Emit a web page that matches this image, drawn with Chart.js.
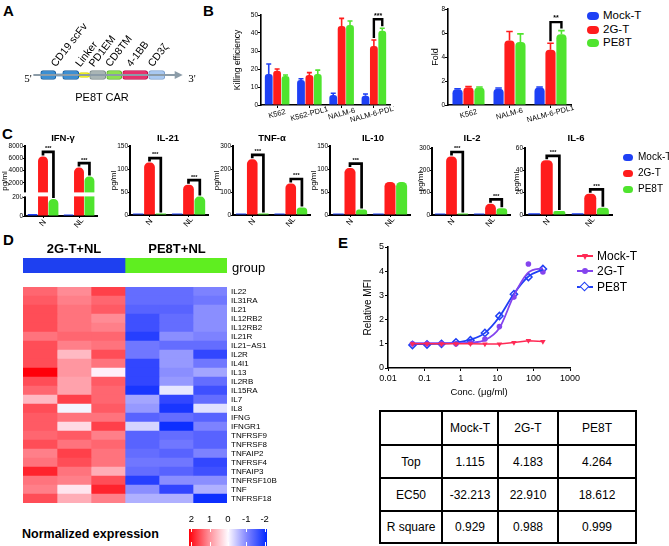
<!DOCTYPE html>
<html>
<head>
<meta charset="utf-8">
<script src="https://cdn.jsdelivr.net/npm/chart.js@4.4.1/dist/chart.umd.min.js"></script>
<style>
  html, body { margin: 0; padding: 0; background: #fff; }
  #fig { position: relative; width: 669px; height: 546px; overflow: hidden;
         font-family: 'Liberation Sans', Arial, Helvetica, sans-serif; color: #000; }
  #fig canvas { position: absolute; }
  .t { position: absolute; white-space: nowrap; line-height: 1; }
  .mk { position: absolute; }
  table.fit { position: absolute; left: 379px; top: 410px; border-collapse: collapse;
              table-layout: fixed; font-size: 12px; }
  table.fit td { border: 2px solid #000; text-align: center; padding: 0; }
</style>
</head>
<body>
<div id="fig"></div>
<script>
// ---------------- data ----------------
// A: construct
const carParts = ['VL', 'VH', 'Linker', 'PD1EM', 'CD8TM', '4-1BB', 'CD3z'];
const carSpans = [[0, 15], [22, 38], [38, 49], [49, 65], [66, 81], [82, 107], [108, 124]];
const carLabels = ['CD19 scFv', 'Linker', 'PD1EM', 'CD8TM', '4-1BB', 'CD3ζ'];
const carLabelParts = [[0, 1], [2], [3], [4], [5], [6]];
const carBackbone = [-7, 135];
const carLink = [15, 22];

// B: killing / fold
const killCats = ['K562', 'K562-PDL1', 'NALM-6', 'NALM-6-PDL1'];
const killMock = [17.2, 13.9, 5.6, 5.2];
const kill2G = [19.0, 16.7, 43.9, 32.8];
const killPE8T = [16.1, 17.2, 44.4, 41.3];
const killMockErr = [22.8, 14.6, 6.5, 6.1];
const kill2GErr = [20.0, 18.0, 48.1, 36.1];
const killPE8TErr = [16.7, 19.4, 46.7, 42.6];

const foldCats = ['K562', 'NALM-6', 'NALM-6-PDL1'];
const foldMock = [1.31, 1.36, 1.45];
const fold2G = [1.48, 5.38, 4.6];
const foldPE8T = [1.45, 5.26, 5.9];
const foldMockErr = [1.36, 1.42, 1.5];
const fold2GErr = [1.54, 6.13, 5.15];
const foldPE8TErr = [1.5, 5.93, 6.2];

// C: cytokines (pg/ml)
const cytoCats = ['N', 'NL'];
const ifnMock = [20, 15], ifn2G = [6300, 4480], ifnPE8T = [179, 3020];
const ifnTicks = [0, 200, 2000, 4000, 6000, 8000];
const il21Mock = [1, 1], il21_2G = [114, 66], il21PE8T = [3, 40];
const tnfMock = [4, 3], tnf2G = [242, 137], tnfPE8T = [2, 33];
const il10Mock = [2, 2], il10_2G = [102, 72], il10PE8T = [12, 72];
const il2Mock = [2, 2], il2_2G = [262, 50], il2PE8T = [3, 30];
const il6Mock = [1.5, 1.5], il6_2G = [49, 19], il6PE8T = [3.6, 6.6];

// D: heatmap (normalized expression), one array per sample column
const genes = ['IL22', 'IL31RA', 'IL21', 'IL12RB2', 'IL12RB2', 'IL21R', 'IL21\u2212AS1', 'IL2R', 'IL4I1',
  'IL13', 'IL2RB', 'IL15RA', 'IL7', 'IL8', 'IFNG', 'IFNGR1', 'TNFRSF9', 'TNFRSF8', 'TNFAIP2',
  'TNFRSF4', 'TNFAIP3', 'TNFRSF10B', 'TNF', 'TNFRSF18'];
const nl2G_1 = [1.3, 1.4, 1.5, 1.5, 1.5, 1.2, 1.5, 1.5, 1.5, 2.0, 1.5, 1.3, 0.6, 1.5, 1.4, 1.4, 1.3, 1.5, 1.1, 1.2, 1.8, 1.2, 1.1, 1.5];
const nl2G_2 = [1.0, 1.1, 1.2, 1.2, 1.2, 1.3, 1.1, 0.6, 0.9, 0.9, 0.8, 0.8, 1.6, -0.05, 1.2, 0.3, 1.4, 1.2, 1.6, 1.5, 1.2, 1.1, 0.2, 0.7];
const nl2G_3 = [1.6, 1.3, 1.4, 1.0, 1.1, 1.3, 1.2, 1.5, 1.2, 0.1, 1.4, 1.3, 1.3, 1.4, 1.2, 1.6, 1.1, 1.3, 1.2, 1.2, 0.7, 1.5, 1.8, 1.1];
const nlPE_1 = [-1.2, -1.2, -1.3, -1.5, -1.5, -1.7, -1.1, -1.1, -1.6, -1.6, -1.6, -1.8, -0.7, -0.8, -1.3, -0.3, -1.3, -1.3, -1.2, -1.1, -1.2, -1.7, -0.9, -0.6];
const nlPE_2 = [-1.2, -1.2, -1.3, -1.2, -1.2, -0.9, -1.2, -0.8, -0.8, -0.9, -0.8, -0.15, -1.6, -1.8, -1.2, -1.9, -1.2, -1.1, -1.3, -1.1, -1.3, -0.9, -1.6, -0.6];
const nlPE_3 = [-1.0, -1.1, -0.9, -0.9, -0.9, -1.0, -1.2, -1.6, -1.1, -0.7, -1.2, -1.5, -1.2, -0.2, -1.3, -1.0, -1.3, -1.3, -1.0, -1.6, -1.5, -0.9, -0.6, -1.9];
const groupSizes = [3, 3];
const heatTicks = [2, 1, 0, -1, -2];

// E: dose response
const concs = [0.047, 0.118, 0.295, 0.737, 1.84, 4.6, 11.5, 28.8, 72, 180];
const mfiMock = [1.0, 1.0, 1.0, 1.0, 1.0, 0.99, 0.99, 1.05, 1.13, 1.09];
const mfi2G = [1.0, 1.0, 1.0, 1.0, 1.05, 1.2, 1.71, 2.93, 4.3, 3.97];
const mfiPE8T = [0.95, 0.97, 1.0, 1.06, 1.15, 1.45, 2.15, 3.05, 3.76, 4.09];
const fit2G = [1.03, 1.03, 1.03, 1.03, 1.05, 1.15, 1.65, 3.0, 3.95, 4.13];
const fitPE8T = [0.98, 0.99, 1.01, 1.05, 1.17, 1.45, 2.12, 3.07, 3.78, 4.07];
const fitHead = ['', 'Mock-T', '2G-T', 'PE8T'];
const fitTop = ['1.115', '4.183', '4.264'];
const fitEC50 = ['-32.213', '22.910', '18.612'];
const fitR2 = ['0.929', '0.988', '0.999'];

// ---------------- helpers ----------------
const F = "'Liberation Sans', Arial, Helvetica, sans-serif";
const COLS = ['#1e40f5', '#ff1c1c', '#4fe42e'];
const fig = document.getElementById('fig');
Chart.defaults.font.family = F;
Chart.defaults.color = '#000';

function mkCanvas(left, top, w, h) {
  const c = document.createElement('canvas');
  c.width = w; c.height = h;
  c.style.left = left + 'px'; c.style.top = top + 'px';
  c.style.width = w + 'px'; c.style.height = h + 'px';
  fig.appendChild(c);
  return c;
}

function txt(s, x, y, css, align) {
  const d = document.createElement('div');
  d.className = 't';
  d.textContent = s;
  d.style.cssText = 'left:' + x + 'px;top:' + y + 'px;transform:translate(' +
    (align === 'l' ? '0' : '-50%') + ',-50%);' + (css || '');
  fig.appendChild(d);
  return d;
}

function box(x, y, w, h, css) {
  const d = document.createElement('div');
  d.className = 'mk';
  d.style.cssText = 'left:' + (x - w / 2) + 'px;top:' + (y - h / 2) + 'px;width:' + w + 'px;height:' + h + 'px;' + css;
  fig.appendChild(d);
}

function heat(v) {
  const t = Math.min(1, Math.abs(v) / 2);
  if (v >= 0) {
    const c = Math.round(250 * Math.pow(1 - t, 0.85));
    return 'rgb(255,' + c + ',' + Math.min(255, c + 10) + ')';
  }
  const c = Math.round(250 * (1 - t));
  return 'rgb(' + c + ',' + Math.round(c + 40 * t * t * t) + ',255)';
}

// broken axis for IFN-g: 0-200 low part, 500-8000 high part
function ifnAxis(v) {
  if (v <= 200) return v * 19 / 200;
  if (v <= 500) return 19 + (v - 200) / 300 * 5;
  return 24 + (v - 500) / 7500 * 46;
}

// ---------------- plugins ----------------
const brkPlugin = {
  id: 'brk',
  afterDatasetsDraw(chart, a, o) {
    if (!o || o.from === undefined) return;
    const y = chart.scales.y, ca = chart.chartArea, ctx = chart.ctx;
    const t = y.getPixelForValue(o.to), b = y.getPixelForValue(o.from);
    ctx.save();
    ctx.fillStyle = '#fff';
    ctx.fillRect(ca.left - 4, t, ca.right - ca.left + 4, b - t);
    ctx.restore();
  }
};

const errPlugin = {
  id: 'errbars',
  afterDatasetsDraw(chart) {
    const ctx = chart.ctx, y = chart.scales.y;
    chart.data.datasets.forEach((ds, i) => {
      if (!ds.errs) return;
      chart.getDatasetMeta(i).data.forEach((bar, j) => {
        const top = y.getPixelForValue(ds.errs[j]);
        const w = bar.width * 0.32;
        ctx.save();
        ctx.strokeStyle = ds.backgroundColor;
        ctx.lineWidth = 1.6;
        ctx.beginPath();
        ctx.moveTo(bar.x, bar.y); ctx.lineTo(bar.x, top);
        ctx.moveTo(bar.x - w, top); ctx.lineTo(bar.x + w, top);
        ctx.stroke();
        ctx.restore();
      });
    });
  }
};

const sigPlugin = {
  id: 'sig',
  afterDatasetsDraw(chart, a, o) {
    if (!o || !o.marks) return;
    const ctx = chart.ctx, y = chart.scales.y;
    const topOf = (k, g) => {
      const ds = chart.data.datasets[k];
      let t = chart.getDatasetMeta(k).data[g].y;
      if (ds.errs) t = Math.min(t, y.getPixelForValue(ds.errs[g]));
      return t;
    };
    o.marks.forEach(m => {
      const ea = chart.getDatasetMeta(m.a).data[m.g];
      const eb = chart.getDatasetMeta(m.b).data[m.g];
      const ta = topOf(m.a, m.g) - o.gap, tb = topOf(m.b, m.g) - o.gap;
      const top = Math.min(ta, tb) - o.rise;
      ctx.save();
      ctx.strokeStyle = '#000';
      ctx.lineWidth = o.lw;
      ctx.lineJoin = 'miter';
      ctx.beginPath();
      ctx.moveTo(ea.x, ta); ctx.lineTo(ea.x, top); ctx.lineTo(eb.x, top); ctx.lineTo(eb.x, tb);
      ctx.stroke();
      ctx.fillStyle = '#000';
      ctx.font = o.font;
      ctx.textAlign = 'center';
      ctx.textBaseline = 'bottom';
      ctx.fillText(m.t, (ea.x + eb.x) / 2, top - o.lw / 2 + 1);
      ctx.restore();
    });
  }
};

const xlabPlugin = {
  id: 'xlab',
  afterDraw(chart, a, o) {
    if (!o || !o.font) return;
    const x = chart.scales.x, ctx = chart.ctx;
    ctx.save();
    ctx.fillStyle = '#000';
    ctx.font = o.font;
    ctx.textAlign = 'center';
    ctx.textBaseline = 'middle';
    chart.data.labels.forEach((l, i) => {
      ctx.save();
      ctx.translate(x.getPixelForValue(i), x.top + o.dy);
      ctx.rotate(o.rot * Math.PI / 180);
      ctx.fillText(l, 0, 0);
      ctx.restore();
    });
    ctx.restore();
  }
};

function barChart(o) {
  const pr = 4;
  const left = o.x0 - o.yw;
  const w = o.x1 - left + pr;
  const cv = mkCanvas(left, o.top, w, o.h);
  const xh = o.top + o.h - o.y1;
  const yTicks = { stepSize: o.step, color: '#000', font: { family: F, size: o.tf }, padding: 0 };
  if (o.tcb) yTicks.callback = o.tcb;
  const yScale = {
    min: o.min, max: o.max,
    grid: { drawOnChartArea: false, drawTicks: true, tickLength: o.tl, color: '#000', lineWidth: 1 },
    border: { color: '#000', width: o.bw },
    ticks: yTicks,
    title: { display: true, text: o.title, color: '#000', font: { family: F, size: o.titleSize }, padding: 0 },
    afterFit: s => { s.width = o.yw; s.paddingTop = 0; s.paddingBottom = 0; }
  };
  if (o.ticks) yScale.afterBuildTicks = s => { s.ticks = o.ticks.map(v => ({ value: v })); };
  return new Chart(cv, {
    type: 'bar',
    data: {
      labels: o.cats,
      datasets: o.sets.map((d, i) => ({
        data: o.map ? d.map(o.map) : d,
        errs: o.errs ? o.errs[i] : null,
        backgroundColor: COLS[i],
        borderRadius: o.radius,
        borderSkipped: 'start',
        barPercentage: o.bp,
        categoryPercentage: o.cp,
        minBarLength: 1.5
      }))
    },
    options: {
      responsive: false, animation: false, devicePixelRatio: 1, events: [],
      layout: { padding: { left: 0, right: pr, top: o.y0 - o.top, bottom: 0 } },
      plugins: {
        legend: { display: false }, tooltip: { enabled: false },
        sig: o.sig, xlab: o.xlab, brk: o.brk || {}
      },
      scales: {
        x: {
          grid: { offset: false, drawOnChartArea: false, drawTicks: true, tickLength: o.tl, color: '#000', lineWidth: 1 },
          border: { color: '#000', width: o.bw },
          ticks: { display: false },
          afterFit: s => { s.height = xh; s.paddingLeft = 0; s.paddingRight = 0; }
        },
        y: yScale
      }
    },
    plugins: [brkPlugin, errPlugin, sigPlugin, xlabPlugin]
  });
}

// ---------------- panel letters ----------------
const letterCss = 'font-weight:bold;font-size:15px;';
txt('A', 3, 10, letterCss, 'l');
txt('B', 203, 10, letterCss, 'l');
txt('C', 2, 133, letterCss, 'l');
txt('D', 3, 239, letterCss, 'l');
txt('E', 338, 242, letterCss, 'l');

// ---------------- A: construct ----------------
const carColors = ['#3b8fd3', '#3b8fd3', '#f2f21e', '#a9b5b5', '#8de04f', '#e8306c', '#a9c9f2'];
const carEdges = ['#1f5f9a', '#1f5f9a', '#d8d800', '#7c8a8a', '#5cb030', '#b8104c', '#7fa2cf'];
const carPlugin = {
  id: 'car',
  afterDatasetsDraw(chart) {
    const ctx = chart.ctx;
    const el = k => chart.getDatasetMeta(k + 2).data[0];
    // arrow head
    const bb = chart.getDatasetMeta(0).data[0];
    ctx.save();
    ctx.fillStyle = '#8c9ca8';
    ctx.beginPath();
    ctx.moveTo(bb.x - 1, bb.y - 4); ctx.lineTo(bb.x + 7, bb.y); ctx.lineTo(bb.x - 1, bb.y + 4);
    ctx.closePath(); ctx.fill();
    // rotated domain names
    ctx.fillStyle = '#000';
    ctx.font = '10.5px ' + F;
    ctx.textAlign = 'left';
    ctx.textBaseline = 'alphabetic';
    carLabels.forEach((lab, i) => {
      const ids = carLabelParts[i];
      const first = el(ids[0]), last = el(ids[ids.length - 1]);
      const cx = (first.base + last.x) / 2;
      const top = chart.getDatasetMeta(2).data[0].y - 4.6;
      ctx.save();
      ctx.translate(cx - 4, top - 3);
      ctx.rotate(-52 * Math.PI / 180);
      ctx.fillText(lab, 0, 0);
      ctx.restore();
    });
    ctx.restore();
  }
};
new Chart(mkCanvas(0, 10, 200, 130), {
  type: 'bar',
  data: {
    labels: ['car'],
    datasets: [
      { data: [carBackbone], backgroundColor: '#8c9ca8', barThickness: 1.5, grouped: false },
      { data: [carLink], backgroundColor: '#2f7fc4', barThickness: 2, grouped: false }
    ].concat(carParts.map((p, i) => ({
      label: p,
      data: [carSpans[i]],
      backgroundColor: carColors[i],
      borderColor: carEdges[i],
      borderWidth: 1,
      borderSkipped: false,
      borderRadius: 2.5,
      barThickness: p === 'Linker' ? 5 : 9,
      grouped: false
    })))
  },
  options: {
    indexAxis: 'y', responsive: false, animation: false, devicePixelRatio: 1, events: [],
    layout: { padding: 0 },
    plugins: { legend: { display: false }, tooltip: { enabled: false } },
    scales: { x: { display: false, min: -40.7, max: 159.3 }, y: { display: false } }
  },
  plugins: [carPlugin]
});
txt("5'", 28, 78, "font-family:'Liberation Serif',serif;font-size:11px;");
txt("3'", 192, 78, "font-family:'Liberation Serif',serif;font-size:11px;");
txt('PE8T CAR', 102, 97, 'font-size:11px;');

// ---------------- B ----------------
barChart({
  x0: 261, x1: 390, yw: 28, top: 5, h: 128, y0: 15, y1: 105,
  cats: killCats, sets: [killMock, kill2G, killPE8T], errs: [killMockErr, kill2GErr, killPE8TErr],
  min: 0, max: 50, step: 10, tf: 6.5, tl: 3, bw: 1.6,
  title: 'Killing efficiency', titleSize: 8.5,
  cp: 0.78, bp: 0.93, radius: 3,
  sig: { marks: [{ g: 3, a: 1, b: 2, t: '***' }], lw: 2.4, gap: 2, rise: 7, font: 'bold 7px ' + F },
  xlab: { font: '7.5px ' + F, rot: -15, dy: 9 }
});
barChart({
  x0: 448, x1: 571, yw: 18, top: 2, h: 131, y0: 9, y1: 105,
  cats: foldCats, sets: [foldMock, fold2G, foldPE8T], errs: [foldMockErr, fold2GErr, foldPE8TErr],
  min: 0, max: 8, step: 2, tf: 6.5, tl: 3, bw: 1.6,
  title: 'Fold', titleSize: 9,
  cp: 0.8, bp: 0.93, radius: 4,
  sig: { marks: [{ g: 2, a: 1, b: 2, t: '**' }], lw: 2.4, gap: 2, rise: 6.5, font: 'bold 7px ' + F },
  xlab: { font: '7.5px ' + F, rot: -15, dy: 9 }
});
const legNames = ['Mock-T', '2G-T', 'PE8T'];
[16, 30, 43].forEach((y, i) => {
  box(593, y, 12, 8, 'background:' + COLS[i] + ';border-radius:4px;');
  txt(legNames[i], 603, y, 'font-size:11.5px;', 'l');
});

// ---------------- C ----------------
const both = [{ g: 0, a: 1, b: 2, t: '***' }, { g: 1, a: 1, b: 2, t: '***' }];
const cyto = [
  { name: 'IFN-\u03b3', tx: 63, x0: 25, x1: 97, yw: 25, y0: 146, y1: 216, sets: [ifnMock, ifn2G, ifnPE8T], broken: true, marks: both },
  { name: 'IL-21', tx: 168, x0: 130, x1: 208, yw: 21, y0: 146, y1: 215, sets: [il21Mock, il21_2G, il21PE8T], max: 150, step: 50, marks: both },
  { name: 'TNF-\u03b1', tx: 272, x0: 233, x1: 310, yw: 21, y0: 146, y1: 215, sets: [tnfMock, tnf2G, tnfPE8T], max: 300, step: 100, marks: both },
  { name: 'IL-10', tx: 373, x0: 330, x1: 410, yw: 21, y0: 146, y1: 215, sets: [il10Mock, il10_2G, il10PE8T], max: 150, step: 50, marks: [both[0]] },
  { name: 'IL-2', tx: 472, x0: 432, x1: 510, yw: 16, y0: 148, y1: 215, sets: [il2Mock, il2_2G, il2PE8T], max: 300, step: 100, marks: both },
  { name: 'IL-6', tx: 576, x0: 525, x1: 612, yw: 13, y0: 148, y1: 215, sets: [il6Mock, il6_2G, il6PE8T], max: 60, step: 20, marks: both }
];
cyto.forEach(c => {
  const o = {
    x0: c.x0, x1: c.x1, yw: c.yw, top: 136, h: 102, y0: c.y0, y1: c.y1,
    cats: cytoCats, sets: c.sets,
    min: 0, max: c.max, step: c.step, tf: 6.5, tl: 2, bw: 2,
    title: 'pg/ml', titleSize: 8,
    cp: 0.87, bp: 0.95, radius: 4.5,
    sig: { marks: c.marks, lw: 2.7, gap: 1, rise: 3.5, font: 'bold 5.5px ' + F },
    xlab: { font: '8px ' + F, rot: -50, dy: 7 }
  };
  if (c.broken) {
    o.map = ifnAxis;
    o.max = 70;
    o.ticks = ifnTicks.map(ifnAxis);
    o.tcb = (v, i) => String(ifnTicks[i]);
    o.brk = { from: 19.6, to: 23.6 };
  }
  barChart(o);
  txt(c.name, c.tx, 138, 'font-weight:bold;font-size:9.5px;');
});
[157, 173, 189].forEach((y, i) => {
  box(628, y, 10, 7, 'background:' + COLS[i] + ';border-radius:3.5px;');
  txt(legNames[i], 638, y, 'font-size:10px;', 'l');
});

// ---------------- D ----------------
txt('2G-T+NL', 74, 248, 'font-weight:bold;font-size:13px;');
txt('PE8T+NL', 177, 248, 'font-weight:bold;font-size:13px;');
txt('group', 232, 267, 'font-size:13px;', 'l');
new Chart(mkCanvas(23, 258, 204, 15), {
  type: 'bar',
  data: {
    labels: ['group'],
    datasets: [
      { data: [groupSizes[0]], backgroundColor: '#1e40f0', barPercentage: 1, categoryPercentage: 1 },
      { data: [groupSizes[1]], backgroundColor: '#5fee20', barPercentage: 1, categoryPercentage: 1 }
    ]
  },
  options: {
    indexAxis: 'y', responsive: false, animation: false, devicePixelRatio: 1, events: [],
    layout: { padding: 0 },
    plugins: { legend: { display: false }, tooltip: { enabled: false } },
    scales: { x: { display: false, stacked: true, min: 0, max: 6 }, y: { display: false, stacked: true } }
  }
});
const heatCols = [nl2G_1, nl2G_2, nl2G_3, nlPE_1, nlPE_2, nlPE_3];
// row names drawn next to the category scale
const geneLabels = {
  id: 'geneLabels',
  afterDraw(chart) {
    const ctx = chart.ctx, y = chart.scales.y, ca = chart.chartArea;
    ctx.save();
    ctx.fillStyle = '#000';
    ctx.font = '8px ' + F;
    ctx.textAlign = 'left';
    ctx.textBaseline = 'middle';
    chart.data.labels.forEach((l, i) => ctx.fillText(l, ca.right + 4, y.getPixelForValue(i) + 0.5));
    ctx.restore();
  }
};
new Chart(mkCanvas(18, 282, 300, 226), {
  type: 'bar',
  data: {
    labels: genes,
    datasets: heatCols.map(col => ({
      data: col.map(() => 1),
      backgroundColor: col.map(heat),
      barPercentage: 1, categoryPercentage: 1, borderWidth: 0
    }))
  },
  options: {
    indexAxis: 'y', responsive: false, animation: false, devicePixelRatio: 1, events: [],
    layout: { padding: { left: 5, right: 91, top: 5, bottom: 5 } },
    plugins: { legend: { display: false }, tooltip: { enabled: false } },
    scales: {
      x: { display: false, stacked: true, min: 0, max: 6 },
      y: { display: false, stacked: true }
    }
  },
  plugins: [geneLabels]
});
txt('Normalized expression', 22, 534, 'font-weight:bold;font-size:12.5px;', 'l');
const heatMarks = {
  id: 'heatMarks',
  afterDatasetsDraw(chart) {
    const ctx = chart.ctx, x = chart.scales.x, ca = chart.chartArea;
    ctx.save();
    ctx.strokeStyle = '#fff';
    ctx.lineWidth = 1;
    heatTicks.forEach(v => {
      const px = Math.round(x.getPixelForValue(v)) + 0.5;
      ctx.beginPath();
      ctx.moveTo(px, ca.top); ctx.lineTo(px, ca.top + 3);
      ctx.moveTo(px, ca.bottom - 4); ctx.lineTo(px, ca.bottom);
      ctx.stroke();
    });
    ctx.restore();
  }
};
new Chart(mkCanvas(184, 510, 88, 36), {
  type: 'bar',
  data: {
    labels: ['scale'],
    datasets: [{
      data: [[-2.13, 2.13]],
      barPercentage: 1, categoryPercentage: 1, borderSkipped: false,
      backgroundColor: c => {
        const ca = c.chart.chartArea;
        if (!ca) return heat(0);
        const g = c.chart.ctx.createLinearGradient(ca.left, 0, ca.right, 0);
        g.addColorStop(0, heat(2));
        g.addColorStop(0.25, heat(1));
        g.addColorStop(0.5, heat(0));
        g.addColorStop(0.75, heat(-1));
        g.addColorStop(1, heat(-2));
        return g;
      }
    }]
  },
  options: {
    indexAxis: 'y', responsive: false, animation: false, devicePixelRatio: 1, events: [],
    layout: { padding: { left: 5, right: 5, top: 0, bottom: 0 } },
    plugins: { legend: { display: false }, tooltip: { enabled: false } },
    scales: {
      x: {
        position: 'top', reverse: true, min: -2.13, max: 2.13,
        grid: { display: false, drawTicks: false }, border: { display: false },
        ticks: { color: '#000', font: { family: F, size: 9.5 }, padding: 4 },
        afterBuildTicks: s => { s.ticks = heatTicks.map(v => ({ value: v })); },
        afterFit: s => { s.height = 19; s.paddingLeft = 0; s.paddingRight = 0; }
      },
      y: { display: false }
    }
  },
  plugins: [heatMarks]
});

// ---------------- E ----------------
const pts = arr => concs.map((c, i) => ({ x: c, y: arr[i] }));
const RED = '#ff2a55', PURPLE = '#8444ee', BLUE = '#1f3ff5';
new Chart(mkCanvas(362, 240, 218, 162), {
  type: 'line',
  data: {
    datasets: [
      { data: pts(mfiMock), borderColor: RED, backgroundColor: RED, borderWidth: 1.5, tension: 0,
        pointStyle: 'triangle', pointRotation: 180, pointRadius: 3.2, pointBorderWidth: 0 },
      { data: pts(fit2G), borderColor: PURPLE, borderWidth: 1.8, cubicInterpolationMode: 'monotone', pointRadius: 0 },
      { data: pts(fitPE8T), borderColor: BLUE, borderWidth: 1.8, cubicInterpolationMode: 'monotone', pointRadius: 0 },
      { data: pts(mfi2G), showLine: false, pointStyle: 'circle', pointRadius: 2.8,
        pointBackgroundColor: PURPLE, pointBorderColor: PURPLE, pointBorderWidth: 0 },
      { data: pts(mfiPE8T), showLine: false, pointStyle: 'rectRot', pointRadius: 3.6,
        pointBackgroundColor: '#fff', pointBorderColor: BLUE, pointBorderWidth: 1.5 }
    ]
  },
  options: {
    responsive: false, animation: false, devicePixelRatio: 1, events: [],
    layout: { padding: { left: 0, right: 10, top: 7, bottom: 0 } },
    plugins: { legend: { display: false }, tooltip: { enabled: false } },
    scales: {
      x: {
        type: 'logarithmic', min: 0.01, max: 1000,
        grid: { drawOnChartArea: false, drawTicks: true, tickLength: 3, color: '#000' },
        border: { color: '#000', width: 1.6 },
        ticks: { color: '#000', font: { family: F, size: 9 }, padding: 2, callback: v => String(v) },
        afterBuildTicks: s => { s.ticks = [0.01, 0.1, 1, 10, 100, 1000].map(v => ({ value: v })); },
        title: { display: true, text: 'Conc. (\u03bcg/ml)', color: '#000', font: { family: F, size: 9.5 }, padding: { top: 0, bottom: 4 } },
        afterFit: s => { s.height = 34; s.paddingLeft = 0; s.paddingRight = 0; }
      },
      y: {
        min: 0, max: 5,
        grid: { drawOnChartArea: false, drawTicks: true, tickLength: 3, color: '#000' },
        border: { color: '#000', width: 1.6 },
        ticks: { stepSize: 1, color: '#000', font: { family: F, size: 9 }, padding: 1 },
        title: { display: true, text: 'Relative MFI', color: '#000', font: { family: F, size: 10 }, padding: 0 },
        afterFit: s => { s.width = 26; s.paddingTop = 0; s.paddingBottom = 0; }
      }
    }
  }
});
// legend E
[[256, RED], [271, PURPLE], [287, BLUE]].forEach(([y, c], i) => {
  box(585, y, 16, 2, 'background:' + c + ';');
  txt(legNames[i], 597, y, 'font-size:12px;', 'l');
});
box(585, 257, 0, 0, 'border-left:3.5px solid transparent;border-right:3.5px solid transparent;border-top:6px solid ' + RED + ';margin-left:-3.5px;margin-top:-3px;');
box(585, 271, 6, 6, 'background:' + PURPLE + ';border-radius:50%;');
box(585, 287, 5, 5, 'background:#fff;border:1.5px solid ' + BLUE + ';transform:rotate(45deg);margin-left:-1.5px;margin-top:-1.5px;');

// table
const tbl = document.createElement('table');
tbl.className = 'fit';
const colW = [60, 54, 58, 76];
const rowH = [34, 33, 33, 32];
[fitHead, ['Top'].concat(fitTop), ['EC50'].concat(fitEC50), ['R square'].concat(fitR2)].forEach((row, r) => {
  const tr = document.createElement('tr');
  tr.style.height = rowH[r] + 'px';
  row.forEach((cell, k) => {
    const td = document.createElement('td');
    td.textContent = cell;
    td.style.width = colW[k] + 'px';
    tr.appendChild(td);
  });
  tbl.appendChild(tr);
});
fig.appendChild(tbl);
</script>
</body>
</html>
